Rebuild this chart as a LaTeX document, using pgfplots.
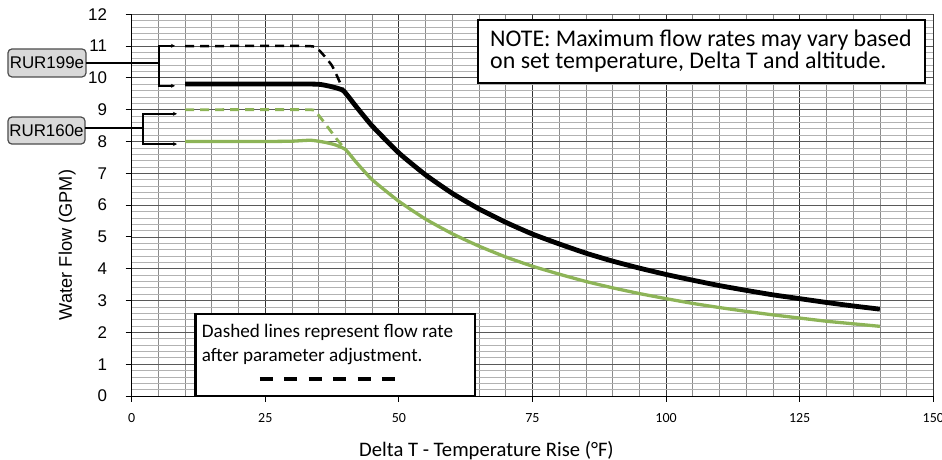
\documentclass[border=0pt]{standalone}
\usepackage{pgfplots}
\pgfplotsset{compat=1.18}
\usepackage{fontspec}
\setmainfont{Carlito}
\newfontfamily\arialf{Liberation Sans}
\usetikzlibrary{arrows.meta}
\definecolor{grn}{RGB}{141,180,87}
\begin{document}
\begin{tikzpicture}
\begin{axis}[
  name=ax,
  scale only axis,
  width=801.6bp, height=381.7bp,
  xmin=0, xmax=150, ymin=0, ymax=12,
  xtick={0,25,...,150},
  xticklabels={0,25,50,75,100,125,150},
  ytick={0,1,...,12},
  yticklabels={0,1,2,3,4,5,6,7,8,9,10,11,12},
  minor x tick num=4,
  minor y tick num=4,
  grid=both,
  major x grid style={black!80, line width=0.8bp},
  minor x grid style={black!45, line width=0.7bp},
  major y grid style={black!65, line width=0.8bp},
  minor y grid style={black!30, line width=0.7bp},
  axis lines*=left,
  axis line style={black, line width=0.9bp},
  tick align=outside,
  major tick length=6bp,
  minor tick length=0pt,
  tick style={black, line width=0.9bp},
  yticklabel style={font=\arialf\fontsize{17}{17}\selectfont, anchor=east, inner sep=0pt, xshift=-18.4bp},
  xticklabel style={font=\fontsize{14}{14}\selectfont, anchor=base, inner sep=0pt, yshift=-20.3bp},
  clip=false,
]
% RUR160e dashed (after adjustment)
\addplot[grn, line width=2.8bp, dash pattern=on 9bp off 6bp, smooth, tension=0.3] coordinates {
(10,9.0) (33,9.0) (34.5,8.92) (36.2,8.56) (38.4,8.07) (39.6,7.83)};
% RUR199e dashed (after adjustment)
\addplot[black, line width=2.5bp, dash pattern=on 9bp off 6bp, smooth, tension=0.3] coordinates {
(10,11.0) (33,11.0) (35,10.88) (37.5,10.38) (39.6,9.62)};
% RUR160e
\addplot[grn, line width=3.3bp, smooth, tension=0.3] coordinates {
(10,8.0) (15,8.0) (20,8.0) (25,8.0) (30,8.01) (33.5,8.04) (36,7.98) (38,7.9) (40,7.75) (42,7.35) (45,6.8) (50,6.12) (55,5.56) (60,5.1) (65,4.71) (70,4.37) (75,4.08) (80,3.83) (85,3.6) (90,3.4) (95,3.22) (100,3.06) (105,2.91) (110,2.78) (115,2.66) (120,2.55) (125,2.45) (130,2.35) (135,2.27) (140,2.19)};
% RUR199e
\addplot[black, line width=4.8bp, smooth, tension=0.3] coordinates {
(10,9.81) (15,9.81) (20,9.81) (25,9.81) (30,9.81) (35,9.80) (37.5,9.72) (39.6,9.6) (42,9.1) (45,8.49) (50,7.64) (55,6.95) (60,6.37) (65,5.88) (70,5.46) (75,5.09) (80,4.78) (85,4.49) (90,4.24) (95,4.02) (100,3.82) (105,3.64) (110,3.47) (115,3.32) (120,3.18) (125,3.06) (130,2.94) (135,2.83) (140,2.73)};

% NOTE box
\draw[black, line width=2.6bp, fill=white] (axis cs:64.8,9.84) rectangle (axis cs:148.45,11.82);
\node[anchor=base west, inner sep=0pt, font=\fontsize{24}{24}\selectfont] at (axis cs:67.05,10.98) {NOTE: Maximum flow rates may vary based};
\node[anchor=base west, inner sep=0pt, font=\fontsize{24}{24}\selectfont] at (axis cs:67.05,10.30) {on set temperature, Delta T and altitude.};

% Dashed-lines box
\draw[black, line width=2.5bp, fill=white] (axis cs:11.98,0) rectangle (axis cs:64.24,2.58);
\node[anchor=base west, inner sep=0pt, font=\fontsize{19.2}{19.2}\selectfont] at (axis cs:13.1,1.845) {Dashed lines represent flow rate};
\node[anchor=base west, inner sep=0pt, font=\fontsize{19.2}{19.2}\selectfont] at (axis cs:13.1,1.069) {after parameter adjustment.};
\draw[black, line width=4.3bp, dash pattern=on 13bp off 11.4bp] (axis cs:24.0,0.534) -- (axis cs:49.27,0.534);

% Callouts
\draw[rounded corners=4bp, fill=black!15, draw=black!70, line width=1.2bp] (axis cs:-23.15,10.03) rectangle (axis cs:-8.55,10.91);
\node[font=\arialf\fontsize{17}{17}\selectfont] at (axis cs:-15.85,10.47) {RUR199e};
\draw[black, line width=2bp] (axis cs:-8.55,10.47) -- (axis cs:5.11,10.47);
\draw[black, line width=1.6bp, -{Stealth[length=4bp,width=4bp]}] (axis cs:5.11,10.47) |- (axis cs:8.1,11.01);
\draw[black, line width=1.6bp, -{Stealth[length=4bp,width=4bp]}] (axis cs:5.11,10.47) |- (axis cs:8.1,9.75);

\draw[rounded corners=4bp, fill=black!15, draw=black!70, line width=1.2bp] (axis cs:-23.15,7.92) rectangle (axis cs:-8.73,8.77);
\node[font=\arialf\fontsize{17}{17}\selectfont] at (axis cs:-15.94,8.345) {RUR160e};
\draw[black, line width=2bp] (axis cs:-8.73,8.43) -- (axis cs:2.15,8.43);
\draw[black, line width=1.6bp, -{Stealth[length=4bp,width=4bp]}] (axis cs:2.15,8.43) |- (axis cs:8.48,8.87);
\draw[black, line width=1.6bp, -{Stealth[length=4bp,width=4bp]}] (axis cs:2.15,8.43) |- (axis cs:8.48,7.92);

% Axis titles
\node[rotate=90, anchor=base, inner sep=0pt, font=\arialf\fontsize{18.3}{18.3}\selectfont] at (axis cs:-11.17,4.747) {Water Flow (GPM)};
\node[anchor=base, inner sep=0pt, font=\fontsize{20.7}{20.7}\selectfont] at (axis cs:66.39,-1.908) {Delta T - Temperature Rise (°F)};

\coordinate (bbSW) at (axis cs:-24.64,-2.012);
\coordinate (bbNE) at (axis cs:151.63,12.449);
\end{axis}
\pgfresetboundingbox
\path[use as bounding box] (bbSW) rectangle (bbNE);
\end{tikzpicture}
\end{document}
